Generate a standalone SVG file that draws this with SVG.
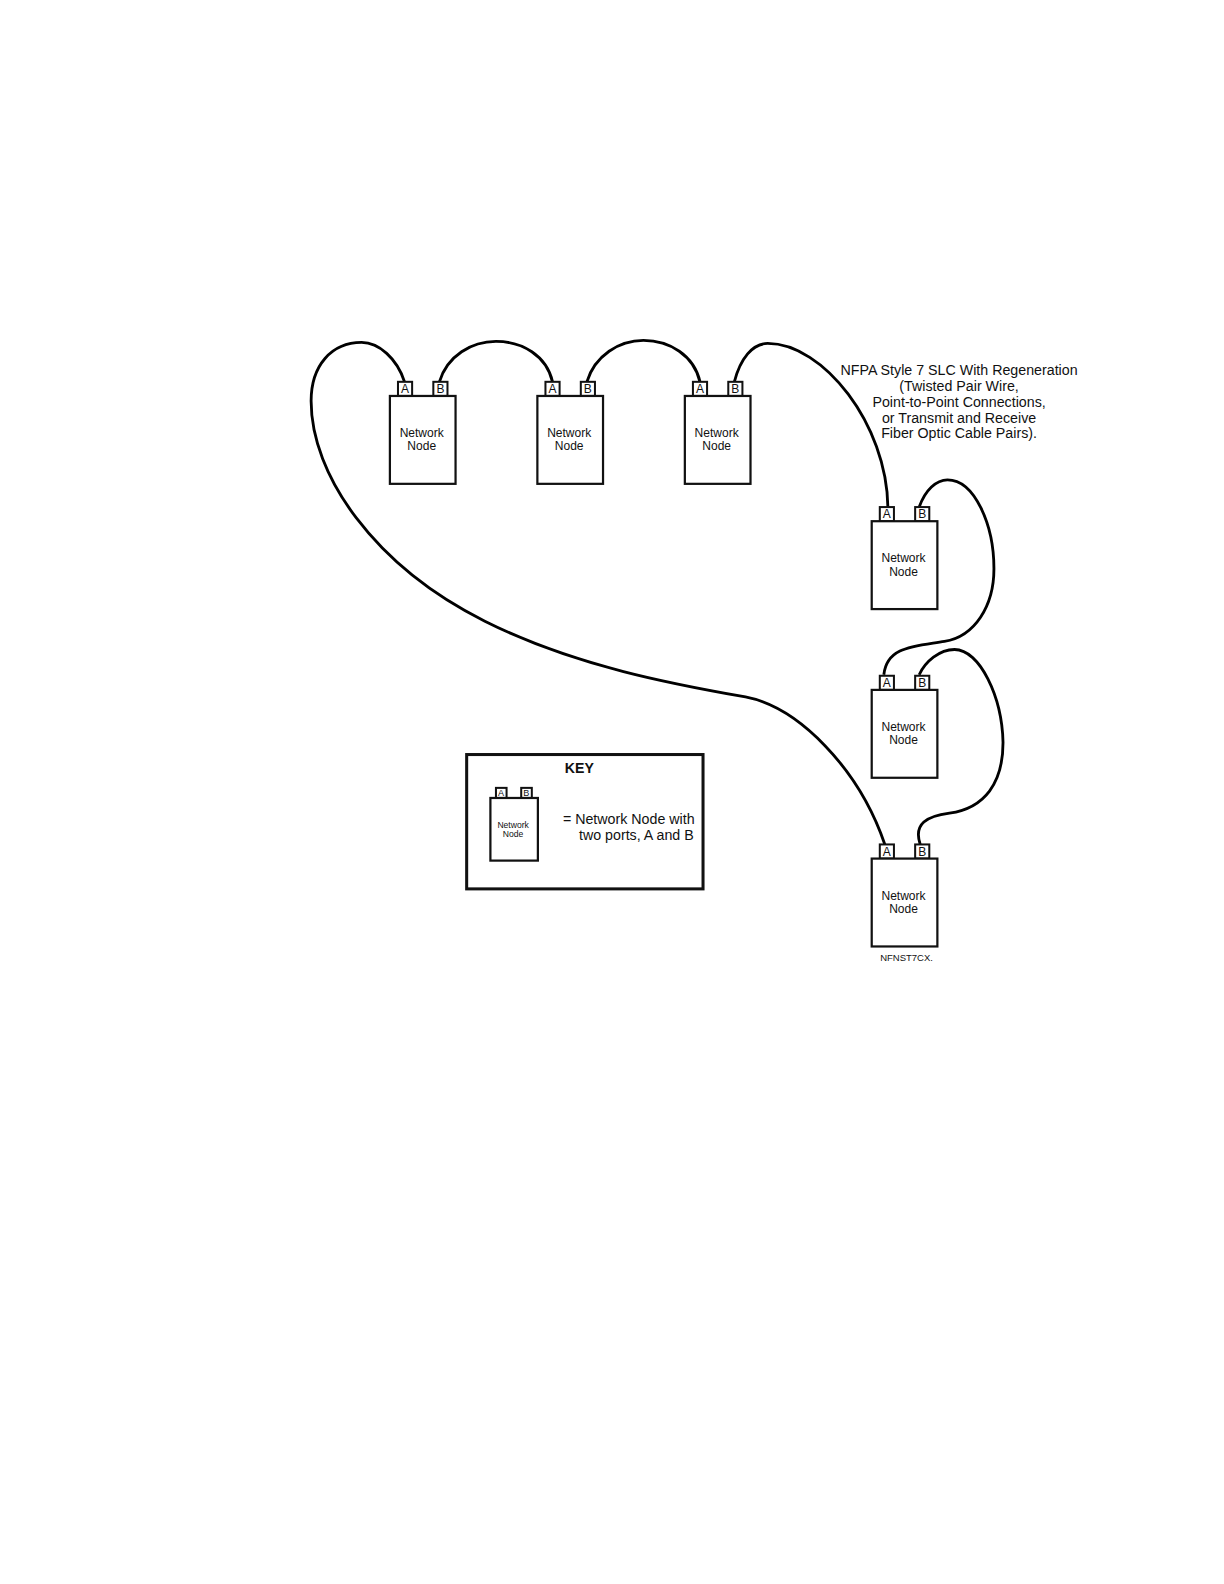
<svg xmlns="http://www.w3.org/2000/svg" width="1224" height="1584" viewBox="0 0 1224 1584">
<defs>
<style>
text{font-family:"Liberation Sans",Arial,sans-serif;fill:#111;text-anchor:middle}
.b{fill:#fff;stroke:#111;stroke-width:2.2}
.p{fill:#fff;stroke:#111;stroke-width:2}
.w{fill:none;stroke:#000;stroke-width:2.8}
.n{font-size:11.9px}
.l{font-size:14.1px}
.s{font-size:9.4px}
</style>
</defs>
<rect width="1224" height="1584" fill="#fff"/>
<g id="diagram" transform="scale(1.0101)">
<g id="connectors">
<path class="w" d="M400.500 378C393 355 375 339 358 339C328 339 308 362 308 397C308 470 370 560 480 615C570 660 670 678 738 690C790 700 850 760 876 836"/>
<path class="w" d="M435 378C443 352 467 338 491 338C517 338 541 352 547 378"/>
<path class="w" d="M581 378C589 352 613 337 637 337C663 337 687 352 693 378"/>
<path class="w" d="M727 378C733 355 745 340 760 340C815 340 878 420 879 502"/>
<path class="w" d="M910 502C916 485 927 475 938 475C965 475 984 520 984 563C984 600 965 630 935 635C905 640 878 640 875 668"/>
<path class="w" d="M910 668C916 655 930 643 945 643C970 643 992 690 993 735C993 775 975 800 940 805C918 808 904 815 911 836"/>
</g>
<g id="node1" transform="translate(386 392)"><rect class="p" x="8" y="-14" width="14" height="14"/><rect class="p" x="43" y="-14" width="14" height="14"/><rect class="b" width="65" height="87"/><text class="n" x="15" y="-3">A</text><text class="n" x="50" y="-3">B</text><text class="n" x="31.500" y="41">Network</text><text class="n" x="31.500" y="54">Node</text></g>
<g id="node2" transform="translate(532 392)"><rect class="p" x="8" y="-14" width="14" height="14"/><rect class="p" x="43" y="-14" width="14" height="14"/><rect class="b" width="65" height="87"/><text class="n" x="15" y="-3">A</text><text class="n" x="50" y="-3">B</text><text class="n" x="31.500" y="41">Network</text><text class="n" x="31.500" y="54">Node</text></g>
<g id="node3" transform="translate(678 392)"><rect class="p" x="8" y="-14" width="14" height="14"/><rect class="p" x="43" y="-14" width="14" height="14"/><rect class="b" width="65" height="87"/><text class="n" x="15" y="-3">A</text><text class="n" x="50" y="-3">B</text><text class="n" x="31.500" y="41">Network</text><text class="n" x="31.500" y="54">Node</text></g>
<g id="node4" transform="translate(863 516)"><rect class="p" x="8" y="-14" width="14" height="14"/><rect class="p" x="43" y="-14" width="14" height="14"/><rect class="b" width="65" height="87"/><text class="n" x="15" y="-3">A</text><text class="n" x="50" y="-3">B</text><text class="n" x="31.500" y="40">Network</text><text class="n" x="31.500" y="54">Node</text></g>
<g id="node5" transform="translate(863 683)"><rect class="p" x="8" y="-14" width="14" height="14"/><rect class="p" x="43" y="-14" width="14" height="14"/><rect class="b" width="65" height="87"/><text class="n" x="15" y="-3">A</text><text class="n" x="50" y="-3">B</text><text class="n" x="31.500" y="41">Network</text><text class="n" x="31.500" y="54">Node</text></g>
<g id="node6" transform="translate(863 850)"><rect class="p" x="8" y="-14" width="14" height="14"/><rect class="p" x="43" y="-14" width="14" height="14"/><rect class="b" width="65" height="87"/><text class="n" x="15" y="-3">A</text><text class="n" x="50" y="-3">B</text><text class="n" x="31.500" y="41">Network</text><text class="n" x="31.500" y="54">Node</text></g>
<g id="title">
<text class="l" x="949.500" y="371">NFPA Style 7 SLC With Regeneration</text>
<text class="l" x="949.500" y="387">(Twisted Pair Wire,</text>
<text class="l" x="949.500" y="403">Point-to-Point Connections,</text>
<text class="l" x="949.500" y="419">or Transmit and Receive</text>
<text class="l" x="949.500" y="434">Fiber Optic Cable Pairs).</text>
</g>
<g id="key">
<rect x="462" y="747" width="234" height="133" fill="#fff" stroke="#111" stroke-width="3"/>
<text x="573.500" y="765" font-size="14" font-weight="700">KEY</text>
<rect class="p" x="491" y="780" width="10.500" height="10"/><rect class="p" x="516" y="780" width="10.500" height="10"/>
<rect class="b" x="485.500" y="790" width="47" height="62"/>
<text font-size="9" x="496" y="788.500">A</text><text font-size="9" x="521" y="788.500">B</text>
<text font-size="8.500" x="508" y="820">Network</text><text font-size="8.500" x="508" y="829">Node</text>
<text class="l" x="622.500" y="816">= Network Node with</text>
<text class="l" x="630" y="832">two ports, A and B</text>
</g>
<text class="s" x="897.500" y="951">NFNST7CX.</text>
</g>
</svg>
